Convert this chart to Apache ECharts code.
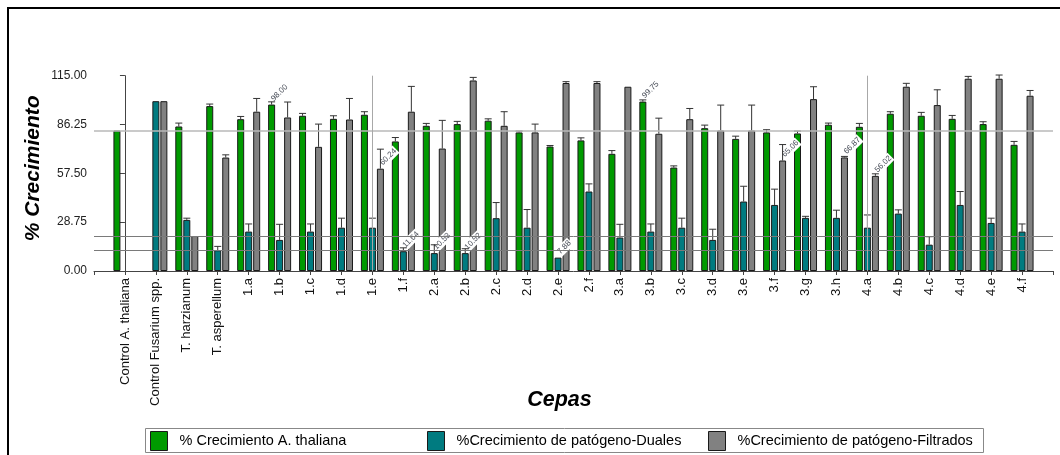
<!DOCTYPE html>
<html>
<head>
<meta charset="utf-8">
<script src="https://cdn.jsdelivr.net/npm/echarts@6/dist/echarts.min.js"></script>
<style>
html,body{margin:0;padding:0;background:#fff;}
#chart{width:1060px;height:455px;}
</style>
</head>
<body>
<div id="chart"></div>
<script>
// ---- data ----
var categories = ['Control A. thaliana','Control Fusarium spp.','T. harzianum','T. asperellum',
  '1.a','1.b','1.c','1.d','1.e','1.f',
  '2.a','2.b','2.c','2.d','2.e','2.f',
  '3.a','3.b','3.c','3.d','3.e','3.f','3.g','3.h',
  '4.a','4.b','4.c','4.d','4.e','4.f'];
var seriesNames = ['% Crecimiento A. thaliana','%Crecimiento de patógeno-Duales','%Crecimiento de patógeno-Filtrados'];
var thaliana = [82.7,null,85.1,97.1, 89.4,98.00,91.4,89.6,92.0,76.3, 85.5,86.5,88.5,81.6,73.3,76.9,
  69.0,99.75,60.9,84.1,77.8,81.6,81.0,86.1, 84.9,92.6,91.4,89.6,86.5,74.3];
var thalianaErr = [0,null,2,1.2, 1.6,1.6,1.4,1.8,1.8,2.3, 1.4,1.6,1.1,0.8,0.6,1.5,
  1.9,1,1,1.8,1.6,1.6,1.4,1, 2,1.2,2,2,1.4,2];
var duales = [null,100,30.1,12.2, 23.2,18.3,23.2,25.5,25.5,11.64, 10.53,10.52,31.1,25.5,7.88,46.8,
  19.7,23.2,25.5,18.3,40.9,38.9,31.3,31.3, 25.5,33.8,15.5,38.9,28.3,23.2];
var dualesErr = [null,0,1,2.3, 4.5,9.2,4.5,5.6,5.6,2, 4.9,2.6,9.2,10.7,0,4.5,
  7.8,4.5,5.6,6.3,9,9.3,0.9,4.5, 7.5,2.2,4.7,7.9,2.8,4.5];
var filtrados = [null,100,20.6,66.8, 93.8,90.4,73.1,89.2,60.24,93.8, 72.1,112.2,85.5,81.6,110.7,110.7,
  108.5,80.8,89.4,82.7,82.7,65.06,101.2,66.87, 56.02,108.5,97.7,113.2,113.2,103.2];
var filtradosErr = [null,0,0,1.6, 7.8,9.1,13.4,12.4,11.5,14.9, 16.6,1.8,8.3,4.9,0.8,0.8,
  0,9.2,6.3,15,15,9.4,7.3,0.6, 1.2,2,9,1.4,2.2,3.1];
var labeledThaliana = ['1.b','3.b'];
var labeledDuales = ['1.f','2.a','2.b','2.e'];
var labeledFiltrados = ['1.e','3.f','3.h','4.a'];
var yTicks = [0, 28.75, 57.5, 86.25, 115];
var verticalMarks = ['1.e','4.a'];

// ---- styles ----
var FONT = '"Liberation Sans", Arial, sans-serif';
var colors = ['#009a00','#007b80','#818181'];
var BAR_W = 7, SLOT = 8;
var legendLefts = [150, 427, 708];

var valueLabel = {
  show: true, position: 'top', distance: 4, rotate: 45, align: 'left', verticalAlign: 'middle',
  fontSize: 8, color: '#4a4f5a', fontFamily: FONT, backgroundColor: '#fff', padding: [1, 1],
  formatter: function (p) { return p.value[1].toFixed(2); }
};

function barData(values, labeled) {
  var out = [];
  values.forEach(function (v, i) {
    if (v === null) return;
    var item = { value: [i, v] };
    if (labeled.indexOf(categories[i]) >= 0) item.label = valueLabel;
    out.push(item);
  });
  return out;
}
function errData(values, errs) {
  var out = [];
  values.forEach(function (v, i) {
    if (v === null || !(errs[i] > 0)) return;
    out.push([i, v, errs[i]]);
  });
  return out;
}
function errRender(offset) {
  return function (params, api) {
    var i = api.value(0), v = api.value(1), e = api.value(2);
    var p0 = api.coord([i, v]);
    var p1 = api.coord([i, v + e]);
    var x = p0[0] + offset;
    return {
      type: 'group',
      children: [
        { type: 'line', shape: { x1: x, y1: p0[1], x2: x, y2: p1[1] }, style: { stroke: '#333', lineWidth: 1 } },
        { type: 'line', shape: { x1: x - 3.5, y1: p1[1], x2: x + 3.5, y2: p1[1] }, style: { stroke: '#333', lineWidth: 1 } }
      ]
    };
  };
}

var allVals = [thaliana, duales, filtrados];
var allErrs = [thalianaErr, dualesErr, filtradosErr];
var allLabeled = [labeledThaliana, labeledDuales, labeledFiltrados];

var series = [];
series.push({
  type: 'line', data: [], z: 1, silent: true,
  markLine: {
    silent: true, symbol: 'none', label: { show: false }, animation: false,
    data: [
      { yAxis: thaliana[0], lineStyle: { color: '#b8b8b8', width: 1.5, type: 'solid' } },
      { yAxis: filtrados[2], lineStyle: { color: '#7a7a7a', width: 1, type: 'solid' } },
      { yAxis: duales[3], lineStyle: { color: '#7a7a7a', width: 1, type: 'solid' } },
      { xAxis: categories.indexOf(verticalMarks[0]), lineStyle: { color: '#a8a8a8', width: 1, type: 'solid' } },
      { xAxis: categories.indexOf(verticalMarks[1]), lineStyle: { color: '#a8a8a8', width: 1, type: 'solid' } }
    ]
  }
});
for (var s = 0; s < 3; s++) {
  series.push({
    name: seriesNames[s], type: 'bar', z: 3,
    barWidth: BAR_W, barGap: '14.3%',
    itemStyle: { color: colors[s], borderColor: '#1a1a1a', borderWidth: 1 },
    data: barData(allVals[s], allLabeled[s])
  });
}
for (var s2 = 0; s2 < 3; s2++) {
  series.push({
    type: 'custom', z: 4, silent: true,
    renderItem: errRender((s2 - 1) * SLOT),
    data: errData(allVals[s2], allErrs[s2])
  });
}

var legends = seriesNames.map(function (n, k) {
  return {
    data: [n], left: legendLefts[k], top: 431, padding: 0, selectedMode: false,
    itemWidth: 17, itemHeight: 19, icon: 'rect',
    itemStyle: { borderColor: '#1a1a1a', borderWidth: 1 },
    textStyle: { fontSize: 14.5, color: '#000', fontFamily: FONT, padding: [0, 0, 0, 7] }
  };
});

var chart = echarts.init(document.getElementById('chart'), null, { renderer: 'canvas' });
chart.setOption({
  animation: false,
  backgroundColor: '#fff',
  textStyle: { fontFamily: FONT },
  grid: { left: 94, right: 7, top: 75.7, bottom: 184, containLabel: false },
  xAxis: {
    type: 'value', min: -1, max: 30, interval: 1,
    name: 'Cepas', nameLocation: 'middle', nameGap: 118, nameMoveOverlap: false,
    nameTextStyle: { fontSize: 21.5, fontWeight: 'bold', fontStyle: 'italic', color: '#000', fontFamily: FONT,
      padding: [0, 28, 0, 0] },
    axisLine: { show: true, lineStyle: { color: '#444', width: 1 } },
    axisTick: { show: true, length: 4, lineStyle: { color: '#444' } },
    splitLine: { show: false },
    axisLabel: {
      rotate: 90, margin: 7, fontSize: 13, color: '#111', fontFamily: FONT, showMinLabel: true, showMaxLabel: true,
      formatter: function (v) { return categories[v] || ''; }
    }
  },
  yAxis: {
    type: 'value', min: yTicks[0], max: yTicks[yTicks.length - 1], interval: yTicks[1] - yTicks[0],
    name: '% Crecimiento', nameLocation: 'middle', nameGap: 50, nameMoveOverlap: false,
    nameTextStyle: { fontSize: 21, fontWeight: 'bold', fontStyle: 'italic', color: '#000', fontFamily: FONT,
      padding: [0, 0, 0, 10] },
    axisLine: { show: true, lineStyle: { color: '#444', width: 1 } },
    axisTick: { show: true, length: 5, lineStyle: { color: '#444' } },
    splitLine: { show: false },
    axisLabel: { fontSize: 12, color: '#222', margin: 7, fontFamily: FONT,
      formatter: function (v) { return v.toFixed(2); } }
  },
  legend: legends,
  graphic: [
    { type: 'line', shape: { x1: 7, y1: 8, x2: 1060, y2: 8 }, style: { stroke: '#000', lineWidth: 2 } },
    { type: 'line', shape: { x1: 8, y1: 7, x2: 8, y2: 455 }, style: { stroke: '#000', lineWidth: 2 } },
    { type: 'rect', shape: { x: 145.5, y: 428.5, width: 838, height: 24 }, style: { fill: 'none', stroke: '#888', lineWidth: 1 }, z: -1 }
  ],
  series: series
});
</script>
</body>
</html>
